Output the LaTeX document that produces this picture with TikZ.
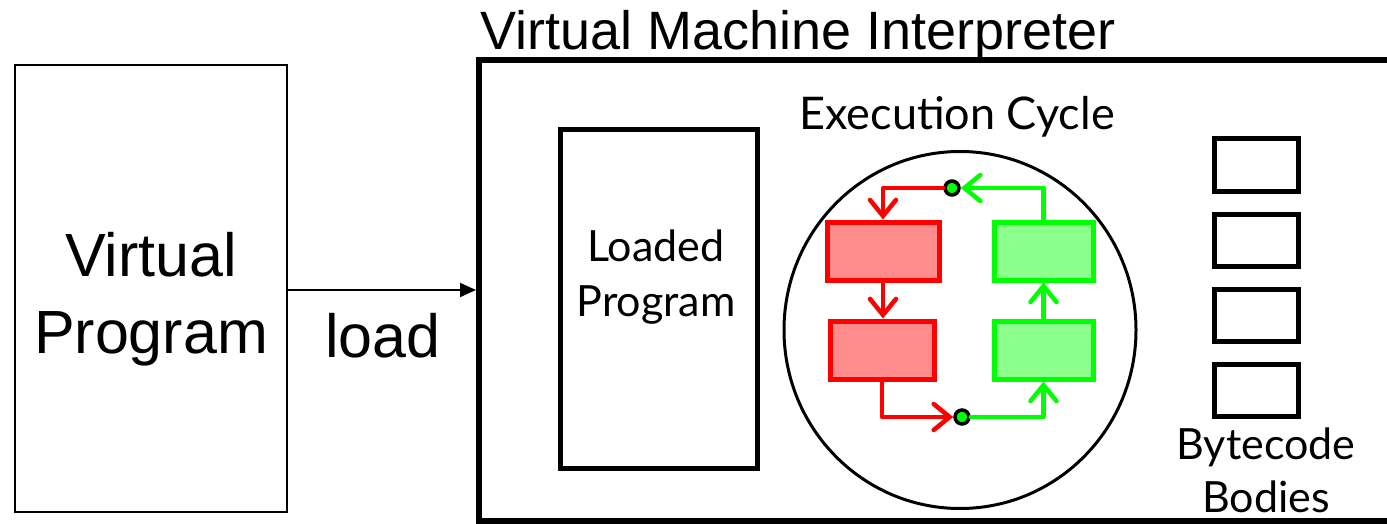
\documentclass[tikz,border=0pt]{standalone}
\usepackage{fontspec}
\setmainfont{Liberation Sans}
\newfontfamily\gillfont{Lato}
\usetikzlibrary{arrows.meta,shapes.geometric}
\definecolor{redfill}{RGB}{255,140,140}
\definecolor{greenfill}{RGB}{140,255,140}
\definecolor{vgreen}{RGB}{0,255,0}
\tikzset{
  x=1pt,y=-1pt,
  plainbox/.style={draw,line width=2.5pt,inner sep=0pt},
  redbox/.style={draw=red,fill=redfill,line width=5pt,inner sep=0pt,minimum height=58pt},
  greenbox/.style={draw=vgreen,fill=greenfill,line width=5pt,inner sep=0pt,minimum width=99pt,minimum height=58pt},
  bcbox/.style={draw,line width=5pt,inner sep=0pt,minimum width=84pt,minimum height=52pt},
  redflow/.style={red,line width=4.5pt,line cap=round,line join=round,-{Straight Barb[length=16pt,width=26pt,line cap=round]}},
  greenflow/.style={vgreen,line width=4.5pt,line cap=round,line join=round,-{Straight Barb[length=16pt,width=26pt,line cap=round]}},
  dot/.style={circle,draw=black,fill=vgreen,line width=3.5pt,inner sep=0pt,minimum size=14pt},
  gill/.style={font=\gillfont\fontsize{43}{55}\selectfont,inner sep=0pt,align=center},
}
\begin{document}
\begin{tikzpicture}
\useasboundingbox (0,0) rectangle (1387,524);
% Virtual program box
\node[plainbox,minimum width=272pt,minimum height=447pt] (vp) at (151,288.5) {};
\node[font=\fontsize{61}{77}\selectfont,inner sep=0pt,align=center,anchor=north] (vptext) at (151,232) {Virtual\\Program};
% VM interpreter frame
\coordinate (vmtl) at (479,60);
\coordinate (vmtr) at (1395,60);
\coordinate (vmbl) at (479,521);
\coordinate (vmbr) at (1395,521);
\draw[line width=6pt] (vmtr) -- (vmtl) -- (vmbl) -- (vmbr);
\node[font=\fontsize{54}{60}\selectfont,inner sep=0pt,anchor=base west] (vmtitle) at (480,50) {Virtual Machine Interpreter};
% load arrow
\coordinate (loadend) at (476,290);
\draw[line width=2pt,-{Triangle[length=16pt,width=14pt]}] (vp.east |- loadend) -- (loadend);
\node[font=\fontsize{61}{70}\selectfont,inner sep=0pt,anchor=base] (load) at (383,357) {load};
% Loaded program
\node[plainbox,line width=5pt,minimum width=197pt,minimum height=338pt] (lp) at (658.5,299) {};
\node[gill,anchor=north] (lptext) at (656,230) {Loaded\\Program};
% Execution cycle
\node[draw,line width=3pt,ellipse,minimum width=352pt,minimum height=357pt,inner sep=0pt] (cyc) at (960,330) {};
\node[gill,anchor=base,font=\gillfont\fontsize{45}{55}\selectfont] (cyctitle) at (957,130) {Execution Cycle};
\node[redbox,minimum width=112pt] (r1) at (883,251) {};
\node[redbox,minimum width=104pt] (r2) at (882,350) {};
\node[greenbox] (g1) at (1043.5,251) {};
\node[greenbox] (g2) at (1043.5,350) {};
\node[dot] (dtop) at (952,188) {};
\node[dot] (dbot) at (962,417) {};
\draw[redflow] (dtop.west) -| (r1.north);
\draw[redflow] (r1.south) -- (r2.north -| r1.south);
\draw[redflow] (r2.south) |- (dbot.west);
\draw[greenflow] (dbot.east) -| (g2.south);
\draw[greenflow] (g2.north) -- (g1.south);
\draw[greenflow] (g1.north) |- (dtop.east);
% Bytecode bodies
\node[bcbox] (b1) at (1256.5,165) {};
\node[bcbox] (b2) at (1256.5,240) {};
\node[bcbox] (b3) at (1256.5,315) {};
\node[bcbox] (b4) at (1256.5,390) {};
\node[gill,anchor=north,font=\gillfont\fontsize{43}{53}\selectfont] (bctext) at (1266,428) {Bytecode\\Bodies};
\end{tikzpicture}
\end{document}
